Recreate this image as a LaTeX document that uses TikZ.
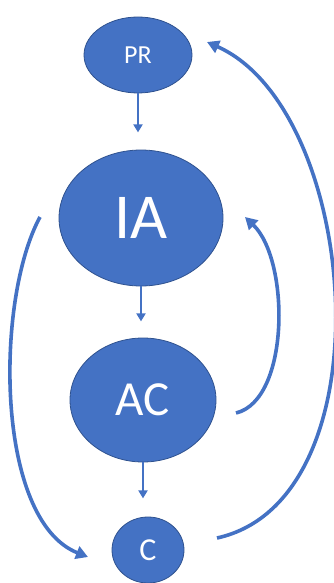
\documentclass[tikz,border=0pt]{standalone}
\usepackage{fontspec}
\setmainfont{Carlito}
\usetikzlibrary{arrows.meta,shapes.geometric}
\definecolor{obl}{HTML}{4472C4}
\definecolor{obd}{HTML}{2F528F}
\begin{document}
\begin{tikzpicture}[x=1pt,y=-1pt,
  bub/.style={ellipse,fill=obl,draw=obd,line width=0.8pt,text=white,inner sep=0pt},
  short/.style={draw=obl,line width=2pt,-{Triangle[length=8pt,width=9pt]}},
  long/.style={draw=obl,line width=3.6pt,-{Triangle[length=12pt,width=13pt]}}]
\useasboundingbox (0,0) rectangle (333,583);
\node[bub,minimum width=108pt,minimum height=76pt,font=\fontsize{26}{26}\selectfont] (pr) at (138,55) {PR};
\node[bub,minimum width=164pt,minimum height=136pt,font=\fontsize{64}{64}\selectfont] (ia) at (141,218) {IA};
\node[bub,minimum width=146pt,minimum height=124pt,font=\fontsize{49}{49}\selectfont] (ac) at (143,400) {AC};
\node[bub,minimum width=72pt,minimum height=66pt,font=\fontsize{32}{32}\selectfont] (c) at (148,550) {C};
\coordinate (l0) at (40,217);
\coordinate (l1) at (88,557);
\coordinate (r0) at (236,413);
\coordinate (r1) at (245,217);
\coordinate (o0) at (217,538);
\coordinate (o1) at (207,42);
\draw[short] (pr.south) -- ([yshift=-39pt]pr.south);
\draw[short] (ia.south) -- ([yshift=-35pt]ia.south);
\draw[short] (ac.south) -- ([yshift=-36pt]ac.south);
\draw[long] (l0) .. controls (-5,300) and (-5,520) .. (l1);
\draw[long] (r0) .. controls (290,400) and (290,260) .. (r1);
\draw[long] (o0) .. controls (390,500) and (360,110) .. (o1);
\end{tikzpicture}
\end{document}
